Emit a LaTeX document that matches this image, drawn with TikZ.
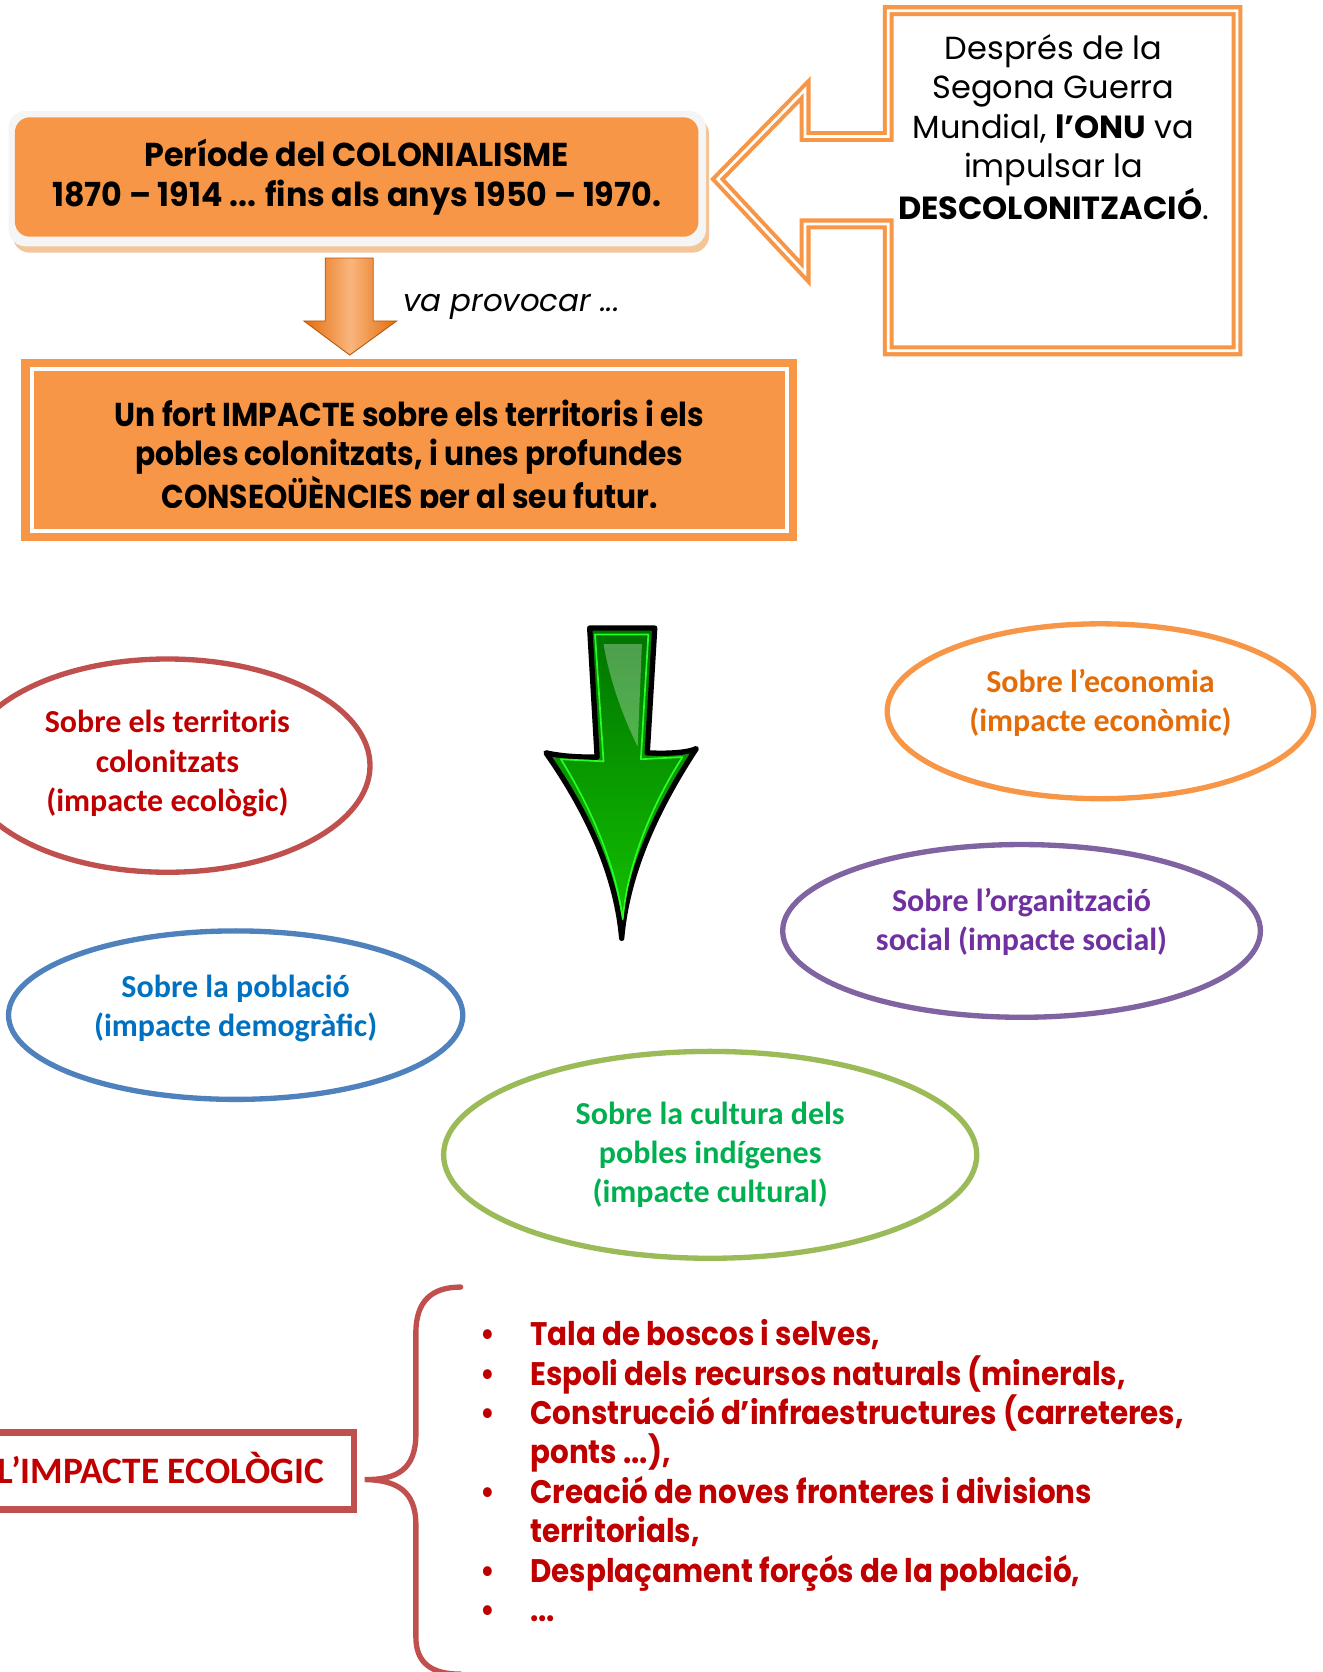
\documentclass[tikz,border=0pt]{standalone}
\usepackage{fontspec}
\newfontfamily\gothic{Poppins}
\newfontfamily\gothicbf[FakeStretch=0.9]{Poppins}
\newfontfamily\gothicwide[FakeStretch=0.96]{Poppins}
\newfontfamily\calib{Carlito}
\usetikzlibrary{shapes.geometric, positioning, calc}

\definecolor{orangefill}{HTML}{F79646}
\definecolor{orangedark}{HTML}{E46C0A}
\definecolor{redline}{HTML}{C0504D}
\definecolor{redtext}{HTML}{C00000}
\definecolor{blueline}{HTML}{4F81BD}
\definecolor{bluetext}{HTML}{0070C0}
\definecolor{purpleline}{HTML}{8064A2}
\definecolor{purpletext}{HTML}{7030A0}
\definecolor{greenline}{HTML}{9BBB59}
\definecolor{greentext}{HTML}{00B050}
\definecolor{orangetext}{HTML}{E36C09}

\newcommand{\punt}{\makebox[23.5pt][l]{\textbullet}}
\newcommand{\sagnat}{\hspace*{23.5pt}}

\begin{document}
\begin{tikzpicture}[x=0.5pt, y=-0.5pt,
    boxtext/.style={align=center, inner sep=0pt, font=\gothicbf\bfseries\fontsize{15.5}{18.5}\selectfont},
    calltext/.style={align=center, inner sep=0pt, font=\gothic\fontsize{15}{18.5}\selectfont},
    bubble/.style={ellipse, draw, line width=2.5pt, inner sep=0pt},
    bubbletext/.style={align=center, inner sep=0pt, font=\calib\bfseries\fontsize{15}{18.3}\selectfont}]
    \useasboundingbox (0,0) rectangle (1240,1568);

    % top box
    \fill[brown!45!orange!45, rounded corners=8pt] (12,110) rectangle (665,237);
    \fill[gray!8, rounded corners=8pt] (8,104) rectangle (662,231);
    \node[fill=orangefill, rounded corners=7pt, minimum width=320.5pt, minimum height=56pt, boxtext,
        font=\gothicwide\bfseries\fontsize{15.5}{18.5}\selectfont] (period) at (334.5,166)
        {Període del COLONIALISME\\1870 – 1914 ... fins als anys 1950 – 1970.};

    % callout
    \draw[orangefill, line width=1.9pt, double=white, double distance=1.3pt]
        (833,10) -- (1160,10) -- (1160,329) -- (833,329) -- (833,210) -- (755,210)
        -- (755,256) -- (673,168) -- (755,84) -- (755,128) -- (833,128) -- cycle;
    \node[calltext] (onu) at (988,119)
        {Després de la\\Segona Guerra\\Mundial, \textbf{l’ONU} va\\impulsar la\\\textbf{DESCOLONITZACIÓ}.};

    % va provocar
    \draw[orangedark!80!black, line width=0.4pt, left color=orangedark, right color=orangedark, middle color=orangefill!70!white]
        (305,242) -- (350,242) -- (350,301) -- (372,301) -- (328,333) -- (285,301) -- (305,301) -- cycle;
    \node[font=\gothic\itshape\fontsize{14.5}{18}\selectfont, anchor=west] (provoca) at (371,288) {va provocar ...};

    % middle box
    \fill[orangefill] (20,337) rectangle (747,507);
    \draw[white, line width=1.5pt] (30,346) rectangle (738,498);
    \begin{scope}
        \clip (30,346) rectangle (738,476);
        \node[boxtext] (impacte) at (384,430)
            {Un fort IMPACTE sobre els territoris i els\\pobles colonitzats, i unes profundes\\CONSEQÜÈNCIES per al seu futur.};
    \end{scope}

    % green arrow
    \draw[black, line width=2.5pt, line join=round, top color=green!45!black, bottom color=green!75!black!90!lime]
        (553,589) -- (614,589) -- (607,706) .. controls (625,707) and (645,706) .. (653,702)
        .. controls (615,760) and (588,820) .. (583,880)
        .. controls (578,820) and (550,760) .. (512,706)
        .. controls (530,710) and (548,710) .. (560,710) -- cycle;
    \draw[green!85!white, line width=0.8pt, line join=round]
        (558,595) -- (608,595) -- (601,712) -- (640,710)
        .. controls (608,760) and (588,815) .. (584,862)
        .. controls (578,815) and (556,760) .. (526,712) -- (566,714) -- cycle;
    \fill[white, opacity=0.3] (566,604) -- (602,604) -- (598,700) .. controls (586,676) and (572,640) .. cycle;

    % consequences
    \node[bubble, draw=redline, minimum width=190pt, minimum height=100pt] (territoris) at (157,718) {};
    \node[bubble, draw=orangefill, minimum width=200pt, minimum height=82pt] (economia) at (1032,667) {};
    \node[bubble, draw=purpleline, minimum width=224pt, minimum height=81pt] (social) at (958,873) {};
    \node[bubble, draw=blueline, minimum width=213pt, minimum height=79pt] (poblacio) at (221,952) {};
    \node[bubble, draw=greenline, minimum width=250pt, minimum height=97pt] (cultura) at (666,1083) {};

    \node[bubbletext, text=redtext] (territoris-t) at (157,716) {Sobre els territoris\\colonitzats\\(impacte ecològic)};
    \node[bubbletext, text=orangetext] (economia-t) at (1032,659) {Sobre l’economia\\(impacte econòmic)};
    \node[bubbletext, text=purpletext] (social-t) at (958,864.5) {Sobre l’organització\\social (impacte social)};
    \node[bubbletext, text=bluetext] (poblacio-t) at (221,945.5) {Sobre la població\\(impacte demogràfic)};
    \node[bubbletext, text=greentext] (cultura-t) at (666,1083) {Sobre la cultura dels\\pobles indígenes\\(impacte cultural)};

    % ecological impact
    \node[draw=redline, line width=3pt, text=redtext, minimum width=181pt, minimum height=36pt,
        text height=11.3pt, text depth=0pt,
        font=\calib\bfseries\fontsize{17.5}{20}\selectfont] (ecologic) at (151,1379.5) {L’IMPACTE ECOLÒGIC};
    \coordinate (tip) at ($(ecologic.east)+(7,8)$);
    \draw[redline, line width=2.5pt, line cap=round]
        (432,1207) .. controls (405,1207) and (390,1220) .. (390,1250) -- (390,1345)
        .. controls (390,1378) and (372,1388) .. (tip)
        .. controls (372,1388) and (390,1398) .. (390,1430) -- (390,1535)
        .. controls (390,1560) and (405,1570) .. (432,1570);
    \node[anchor=north west, inner sep=0pt, align=left, text=redtext,
        font=\gothicbf\bfseries\fontsize{15.3}{18.5}\selectfont] (llista) at (450,1237)
        {\punt Tala de boscos i selves,\\
         \punt Espoli dels recursos naturals (minerals,\\
         \punt Construcció d’infraestructures (carreteres,\\
         \sagnat ponts ...),\\
         \punt Creació de noves fronteres i divisions\\
         \sagnat territorials,\\
         \punt Desplaçament forçós de la població,\\
         \punt ...};
\end{tikzpicture}
\end{document}
